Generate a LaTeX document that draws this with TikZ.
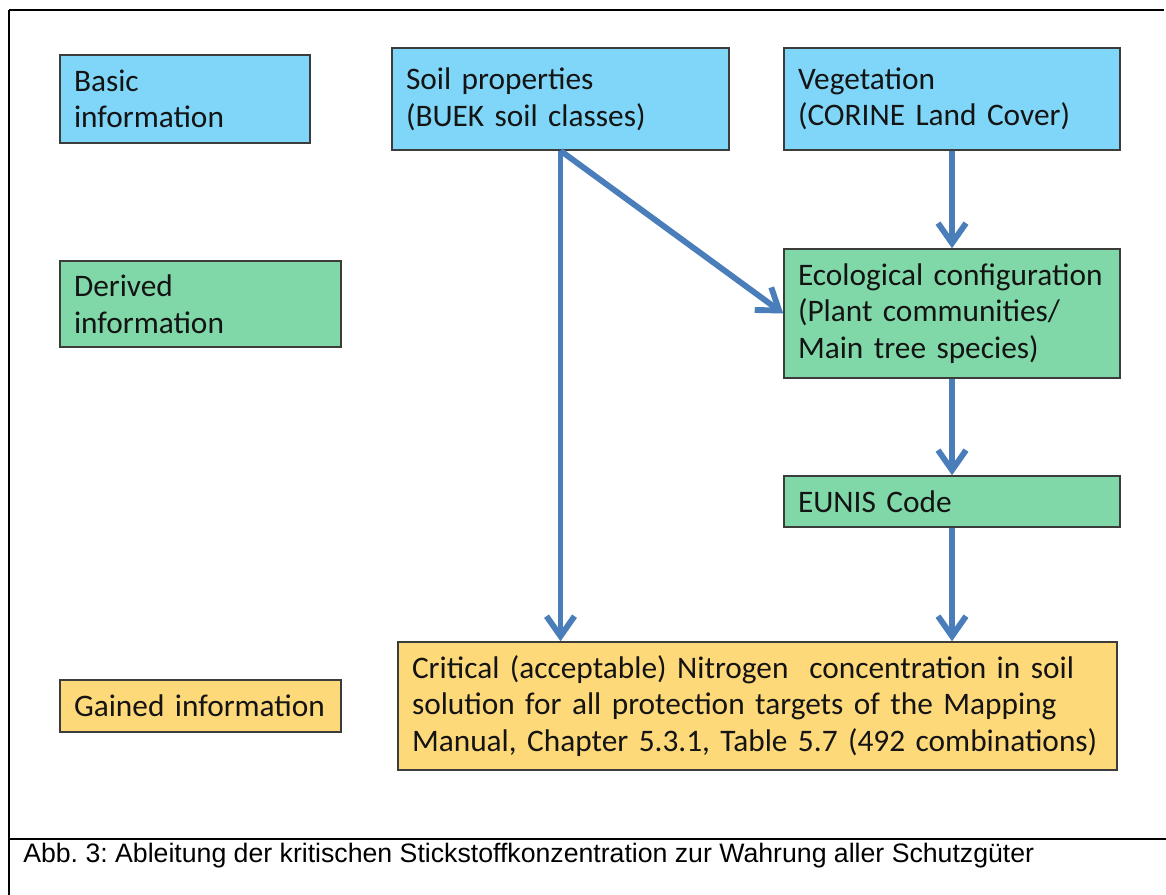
\documentclass[tikz,border=0pt]{standalone}
\usepackage{fontspec}
\setmainfont{Carlito}
\newfontfamily\capfont{Liberation Sans}
\usetikzlibrary{arrows.meta}
\definecolor{bluefill}{RGB}{128,214,248}
\definecolor{greenfill}{RGB}{128,216,168}
\definecolor{yellowfill}{RGB}{254,217,122}
\definecolor{boxline}{RGB}{60,60,60}
\definecolor{arrowblue}{RGB}{74,126,187}
\definecolor{boxtext}{RGB}{20,20,20}
\frenchspacing
\tikzset{
  infobox/.style={draw=boxline, line width=1.1pt, rectangle, inner xsep=10.5pt, inner ysep=0pt,
    align=left, text=boxtext, font=\fontsize{23.5}{27.5}\selectfont},
  bluebox/.style={infobox, fill=bluefill},
  greenbox/.style={infobox, fill=greenfill},
  yellowbox/.style={infobox, fill=yellowfill},
  flow/.style={draw=arrowblue, line width=4.4pt, -{Straight Barb[length=15pt,width=21pt]}},
  frameline/.style={draw=black},
}
\begin{document}
\begin{tikzpicture}[x=0.75pt,y=-0.75pt]
\useasboundingbox (0,0) rectangle (1166,895);
% frame
\coordinate (tl) at (9,10);
\coordinate (tr) at (1164,10);
\coordinate (bl) at (9,895);
\coordinate (sl) at (9,839);
\coordinate (sr) at (1166,839);
\draw[frameline, line width=1.1pt] (tl) -- (tr);
\draw[frameline, line width=1.9pt] (tl) -- (bl);
\draw[frameline, line width=2.2pt] (sl) -- (sr);
% left labels
\node[bluebox, text width=166.5pt, minimum height=66pt] (basic) at (185,99) {Basic\\information};
\node[greenbox, text width=189.75pt, minimum height=64.5pt] (derived) at (200.5,304) {Derived\\information};
\node[yellowbox, text width=189.75pt, minimum height=39pt] (gained) at (200.5,706) {Gained information};
% main boxes
\node[bluebox, text width=231.75pt, minimum height=76.5pt] (soil) at (560.5,99) {Soil properties\\(BUEK soil classes)};
\node[bluebox, text width=231pt, minimum height=76.5pt] (veg) at (952,99) {Vegetation\\(CORINE Land Cover)};
\node[greenbox, text width=231pt, minimum height=96.75pt] (eco) at (952,313.5) {Ecological configuration\\(Plant communities/\\Main tree species)};
\node[greenbox, text width=231pt, minimum height=38.25pt] (eunis) at (952,501.5) {EUNIS Code};
\node[yellowbox, text width=518.25pt, minimum height=96pt] (crit) at (757.5,706) {Critical (acceptable) Nitrogen\ \ concentration in soil\\solution for all protection targets of the Mapping\\Manual, Chapter 5.3.1, Table 5.7 (492 combinations)};
% connectors
\draw[flow] (soil.south) -- (crit.north -| soil.south);
\draw[flow] (soil.south) -- (eco.west);
\draw[flow] (veg.south) -- (eco.north);
\draw[flow] (eco.south) -- (eunis.north);
\draw[flow] (eunis.south) -- (crit.north -| eunis.south);
% caption
\node[anchor=base west, inner sep=0pt, font=\capfont\fontsize{20}{24}\selectfont] (caption) at (23,862) {Abb. 3: Ableitung der kritischen Stickstoffkonzentration zur Wahrung aller Schutzgüter};
\end{tikzpicture}
\end{document}
